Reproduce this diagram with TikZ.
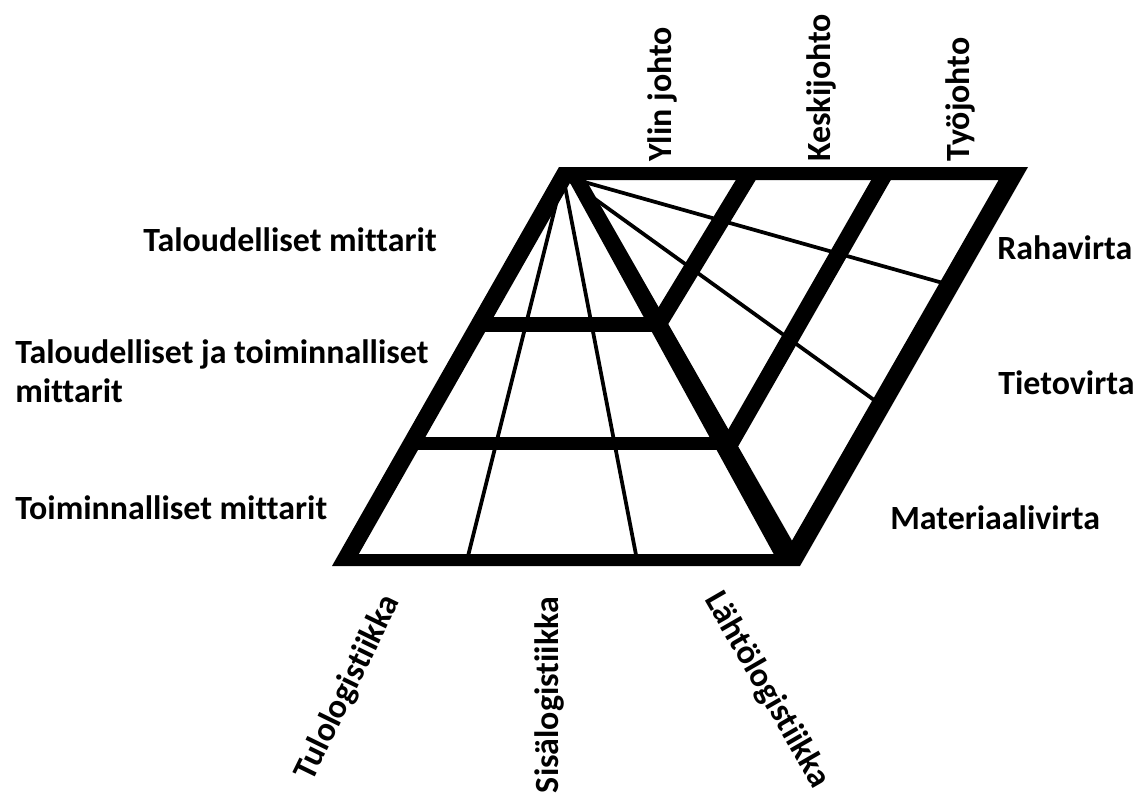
\documentclass[tikz,border=0pt]{standalone}
\usepackage{fontspec}
\setmainfont{Carlito}[Ligatures=NoCommon]
\begin{document}
\begin{tikzpicture}[x=0.02cm,y=-0.02cm,
  lbl/.style={font=\fontsize{19.3}{22}\selectfont\bfseries, inner sep=0pt},
  rayln/.style={line width=0.075cm, line cap=round},
  barln/.style={line width=0.34cm},
  levelln/.style={line width=#1}]
\useasboundingbox (0,0) rectangle (1140,795);
% named points
\coordinate (apex) at (563,176);
\coordinate (tl) at (559,167);
\coordinate (tr) at (1028,167);
\coordinate (br) at (800,566);
\coordinate (bl) at (332,566);
% outer frame
\fill[even odd rule] (tl) -- (tr) -- (br) -- (bl) -- cycle
  (571.6,180) -- (998.6,180) -- (784.3,554) -- (358.8,554) -- cycle;
% pyramid right edge (wedge)
\fill (563,170) -- (582,173) -- (803,560) -- (777,560) -- cycle;
% level lines
\coordinate (l1a) at (479,324.5); \coordinate (l1b) at (658,324.5);
\coordinate (l2a) at (411,443.5); \coordinate (l2b) at (725,443.5);
\draw[levelln=0.3cm] (l1a) -- (l1b);
\draw[levelln=0.26cm] (l2a) -- (l2b);
% thick lines of right face
\coordinate (a1) at (750,173); \coordinate (a2) at (658,324.5);
\coordinate (b1) at (885,173); \coordinate (b2) at (730,443.5);
\draw[barln] (a1) -- (a2);
\draw[barln] (b1) -- (b2);
% rays from apex
\coordinate (r1) at (467,560);
\coordinate (r2) at (637,560);
\coordinate (r3) at (950,285);
\coordinate (r4) at (881,405);
\foreach \r in {r1,r2,r3,r4} \draw[rayln] (apex) -- (\r);
% left labels
\node[lbl, anchor=west] (tm) at (143,240) {Taloudelliset mittarit};
\node[lbl, anchor=west, align=left] (ttm) at (15,371) {Taloudelliset ja toiminnalliset\\mittarit};
\node[lbl, anchor=west] (toim) at (15,508) {Toiminnalliset mittarit};
% right labels
\node[lbl, anchor=west] (raha) at (997,248) {Rahavirta};
\node[lbl, anchor=west] (tieto) at (998,383) {Tietovirta};
\node[lbl, anchor=west] (mat) at (890,518) {Materiaalivirta};
% top labels
\node[lbl, rotate=90, anchor=base west] (ylin) at (671,162) {Ylin johto};
\node[lbl, rotate=90, anchor=base west] (keski) at (830,162) {Keskijohto};
\node[lbl, rotate=90, anchor=base west] (tyo) at (969,162) {Työjohto};
% bottom labels
\node[lbl, rotate=64] (tulo) at (348,688) {Tulologistiikka};
\node[lbl, rotate=90] (sisa) at (549,695) {Sisälogistiikka};
\node[lbl, rotate=-60] (lahto) at (767,690) {Lähtölogistiikka};
\end{tikzpicture}
\end{document}
